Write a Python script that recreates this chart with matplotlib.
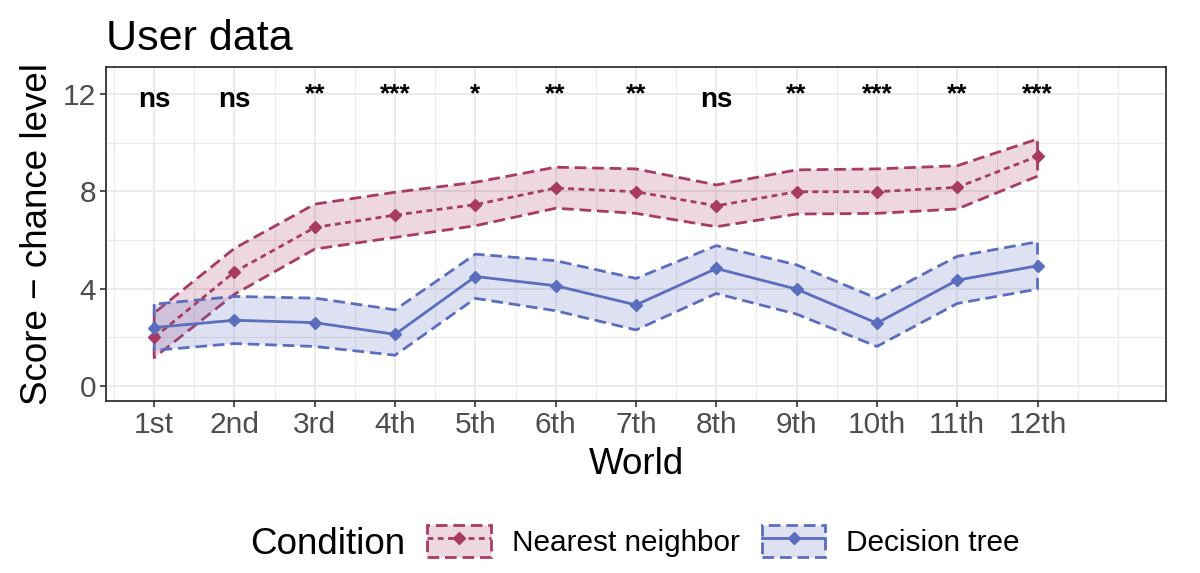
import matplotlib
matplotlib.use("Agg")
import matplotlib.pyplot as plt
from matplotlib.patches import Patch
from matplotlib.lines import Line2D
from matplotlib.ticker import FixedLocator
import numpy as np

plt.rcParams['font.family'] = ['Liberation Sans', 'DejaVu Sans']

worlds = ['1st', '2nd', '3rd', '4th', '5th', '6th', '7th', '8th', '9th', '10th', '11th', '12th']
nn_mean = [1.99, 4.69, 6.52, 7.03, 7.46, 8.14, 7.99, 7.41, 7.99, 7.99, 8.17, 9.45]
nn_upper = [3.00, 5.66, 7.48, 7.97, 8.38, 9.00, 8.93, 8.27, 8.89, 8.93, 9.06, 10.16]
nn_lower = [1.16, 3.77, 5.63, 6.11, 6.59, 7.31, 7.10, 6.55, 7.07, 7.10, 7.28, 8.63]
dt_mean = [2.40, 2.70, 2.60, 2.12, 4.50, 4.12, 3.33, 4.83, 3.98, 2.58, 4.35, 4.94]
dt_upper = [3.36, 3.68, 3.61, 3.13, 5.42, 5.15, 4.42, 5.77, 4.98, 3.60, 5.33, 5.93]
dt_lower = [1.46, 1.74, 1.62, 1.26, 3.60, 3.09, 2.30, 3.80, 2.95, 1.62, 3.39, 3.98]
sig_labels = ['ns', 'ns', '**', '***', '*', '**', '**', 'ns', '**', '***', '**', '***']
sig_y = 12
conditions = ['Nearest neighbor', 'Decision tree']

NN_COL = '#A83A64'
DT_COL = '#5B6DBF'
x = np.arange(1, len(worlds) + 1)

fig = plt.figure(figsize=(12, 5.73), dpi=100)
ax = fig.add_axes([106/1200, 1 - 401/573, 1060/1200, 334/573])

lw = 2.0
band_ls = (0, (4.2, 2.1))
dot_ls = (0, (2.1, 1.6))
ms = 6

ax.fill_between(x, nn_lower, nn_upper, facecolor=NN_COL, alpha=0.2, edgecolor='none', zorder=2)
ax.fill_between(x, nn_lower, nn_upper, facecolor='none', edgecolor=NN_COL, linestyle=band_ls, linewidth=lw, zorder=2.1)
ax.fill_between(x, dt_lower, dt_upper, facecolor=DT_COL, alpha=0.2, edgecolor='none', zorder=2.2)
ax.fill_between(x, dt_lower, dt_upper, facecolor='none', edgecolor=DT_COL, linestyle=band_ls, linewidth=lw, zorder=2.3)

ax.plot(x, nn_mean, color=NN_COL, linestyle=dot_ls, linewidth=lw, marker='D', markersize=ms, zorder=3)
ax.plot(x, dt_mean, color=DT_COL, linestyle='-', linewidth=lw, marker='D', markersize=ms, zorder=3)

for xi, lab in zip(x, sig_labels):
    is_star = '*' in lab
    ax.annotate(lab, xy=(xi, sig_y), xytext=(0, 0 if is_star else -3.8), textcoords='offset points',
                ha='center', va='center', fontsize=19 if is_star else 20,
                fontweight='bold', color='black', zorder=4)

ax.set_xlim(0.4, 13.6)
ax.set_ylim(-0.625, 13.125)
ax.xaxis.set_major_locator(FixedLocator(x))
ax.set_xticklabels(worlds)
ax.xaxis.set_minor_locator(FixedLocator(np.arange(0.5, 13.01, 0.5)))
ax.yaxis.set_major_locator(FixedLocator([0, 4, 8, 12]))
ax.yaxis.set_minor_locator(FixedLocator([2, 6, 10]))

ax.grid(True, which='major', color='#EBEBEB', linewidth=1.4, zorder=0)
ax.grid(True, which='minor', color='#EBEBEB', linewidth=0.8, zorder=0)
ax.set_axisbelow(True)
ax.tick_params(which='minor', length=0)
ax.tick_params(which='major', length=4, width=1.2, color='#333333', labelcolor='#4D4D4D',
               labelsize=21.5, pad=3)
for s in ax.spines.values():
    s.set_color('#333333')
    s.set_linewidth(1.3)

ax.set_xlabel('World', fontsize=26.5, labelpad=6)
ax.set_ylabel('Score \u2212 chance level', fontsize=26.5, labelpad=6)
ax.set_title('User data', fontsize=31, loc='left', pad=12)

handles = []
for col, ls in [(NN_COL, dot_ls), (DT_COL, '-')]:
    p = Patch(facecolor=matplotlib.colors.to_rgba(col, 0.2), edgecolor=col, linestyle=band_ls, linewidth=lw)
    l = Line2D([], [], color=col, linestyle=ls, linewidth=lw, marker='D', markersize=ms)
    handles.append((p, l))

leg = fig.legend(handles, conditions, loc='center left', bbox_to_anchor=(427/1200, 1 - 541/573),
                 ncol=2, frameon=False, fontsize=21.4, borderpad=0, borderaxespad=0,
                 handlelength=2.15, handleheight=1.31, handletextpad=0.7, columnspacing=0.74,
                 numpoints=1)
fig.text(405/1200, 1 - 545/573, 'Condition', ha='right', va='center', fontsize=26.5)

fig.savefig('out.png', dpi=100)
